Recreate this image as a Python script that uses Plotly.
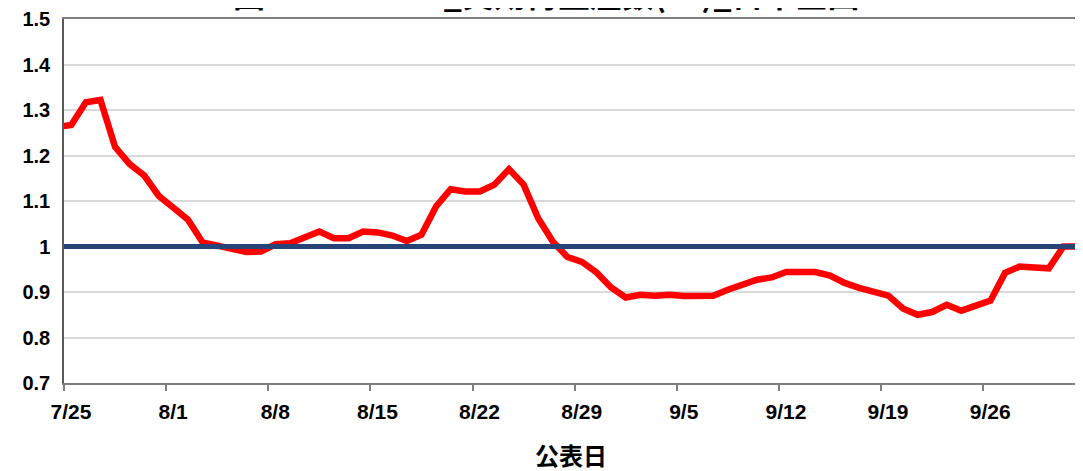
import pandas as pd
import plotly.graph_objects as go

# 公表日 (7/24 is only partly visible at the left edge)
dates = pd.date_range("2020-07-24", "2020-10-02", freq="D")

rt_values = [
    1.263,
    1.267, 1.317, 1.322, 1.219, 1.181, 1.156, 1.111, 1.085, 1.059, 1.009,
    1.001, 0.993, 0.988, 0.989, 1.005, 1.007, 1.020, 1.033, 1.018, 1.018,
    1.033, 1.031, 1.024, 1.012, 1.026, 1.088, 1.126, 1.121, 1.121, 1.136,
    1.170, 1.136, 1.062, 1.011, 0.977, 0.966, 0.943, 0.910, 0.888, 0.894,
    0.892, 0.894, 0.891, 0.892, 0.892, 0.905, 0.915, 0.927, 0.932, 0.944,
    0.944, 0.944, 0.936, 0.920, 0.909, 0.899, 0.892, 0.864, 0.850, 0.856,
    0.872, 0.859, 0.870, 0.881, 0.942, 0.956, 0.954, 0.952, 1.000, 1.000,
]
baseline = [1.0] * len(dates)

tick_dates = pd.date_range("2020-07-25", "2020-09-26", freq="7D")
tick_text = [f"{d.month}/{d.day}" for d in tick_dates]

title_text = "図　COVID-19_実効再生産数(Rt)_日本全国"

fig = go.Figure()
fig.add_trace(go.Scatter(x=dates, y=rt_values, mode="lines",
                         line=dict(color="#ff0000", width=6.5)))
fig.add_trace(go.Scatter(x=dates, y=baseline, mode="lines",
                         line=dict(color="#264478", width=5)))

font_num = "Liberation Sans, Arial, sans-serif"

# the page body adds an 8px offset, so margins are shifted by 8px
fig.update_layout(
    width=1083, height=471,
    margin=dict(l=56, r=13, t=11, b=96),
    plot_bgcolor="white", paper_bgcolor="white",
    showlegend=False,
    xaxis=dict(
        range=[pd.Timestamp("2020-07-24 12:00"), pd.Timestamp("2020-10-02 00:00")],
        automargin=False,
        tickvals=tick_dates - pd.Timedelta(hours=12),
        ticktext=tick_text,
        ticklabelshift=7,
        ticks="outside", ticklen=6, tickcolor="#7f7f7f", tickwidth=1.5,
        ticklabelstandoff=3,
        showgrid=False,
        showline=True, linecolor="#7f7f7f", linewidth=1.5, mirror=True,
        tickfont=dict(family=font_num, size=21, color="black", weight="bold"),
        title=dict(text="公表日", standoff=26,
                   font=dict(family="Noto Sans CJK JP", size=24, color="black", weight="bold")),
    ),
    yaxis=dict(
        range=[0.7, 1.5],
        automargin=False,
        tickvals=[0.7, 0.8, 0.9, 1.0, 1.1, 1.2, 1.3, 1.4, 1.5],
        ticktext=["0.7", "0.8", "0.9", "1", "1.1", "1.2", "1.3", "1.4", "1.5"],
        ticks="", ticklabelstandoff=8,
        showgrid=True, gridcolor="#d9d9d9", gridwidth=2,
        showline=True, linecolor="#595959", linewidth=1.5, mirror=True,
        zeroline=False,
        tickfont=dict(family=font_num, size=20, color="black", weight="bold"),
    ),
    annotations=[dict(
        xref="paper", yref="paper", x=0.476, y=1.0, yshift=1,
        xanchor="center", yanchor="bottom",
        text=title_text, showarrow=False,
        font=dict(family="Noto Sans CJK JP", size=32, color="black", weight="bold"),
    )],
)

fig.write_html("out.html")
